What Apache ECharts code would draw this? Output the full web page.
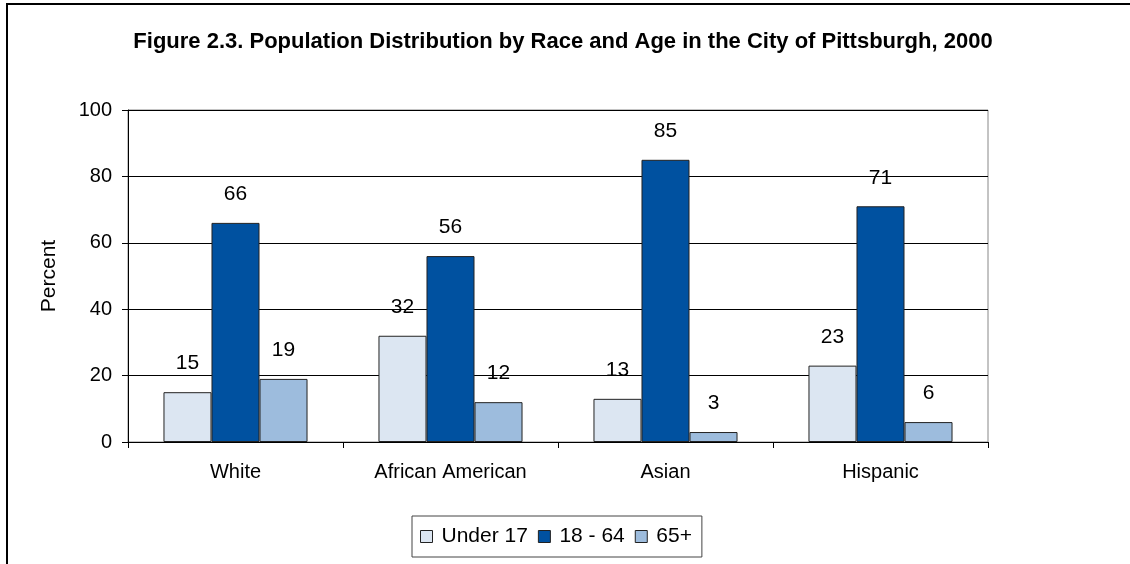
<!DOCTYPE html>
<html>
<head>
<meta charset="utf-8">
<script src="https://cdn.jsdelivr.net/npm/echarts@6/dist/echarts.min.js"></script>
<style>
  html, body { margin: 0; padding: 0; background: #fff; }
  #frame {
    position: absolute; left: 6px; top: 3px; width: 1124px; height: 561px;
    border-left: 2px solid #000; border-top: 2px solid #000;
  }
  #chart { position: absolute; left: 0; top: 0; width: 1130px; height: 564px; }
</style>
</head>
<body>
<div id="frame"></div>
<div id="chart"></div>
<script>
const categories = ['White', 'African American', 'Asian', 'Hispanic']
const under17 = [15, 32, 13, 23]
const adults = [66, 56, 85, 71]
const seniors = [19, 12, 3, 6]
const yTicks = [0, 20, 40, 60, 80, 100]

const font = 'Liberation Sans, Arial, sans-serif'

const barSeries = (name, data, color) => ({
  name: name,
  type: 'bar',
  data: data,
  barGap: '0%',
  barCategoryGap: '33%',
  itemStyle: { color: color, borderColor: '#222', borderWidth: 1 },
  label: {
    show: true,
    position: 'top',
    distance: 18,
    color: '#000',
    fontFamily: font,
    fontSize: 21
  }
})

const option = {
  animation: false,
  backgroundColor: 'transparent',
  title: {
    text: 'Figure 2.3. Population Distribution by Race and Age in the City of Pittsburgh, 2000',
    left: 558,
    textAlign: 'center',
    top: 26,
    textStyle: { fontFamily: font, fontSize: 22, fontWeight: 'bold', color: '#000' }
  },
  grid: {
    left: 128, right: 142, top: 110, bottom: 122,
    show: true, borderColor: '#888', borderWidth: 1, backgroundColor: '#fff'
  },
  legend: {
    left: 412,
    top: 516,
    itemWidth: 12,
    itemHeight: 12,
    itemGap: 10,
    padding: [10, 10, 10, 8],
    borderColor: '#444',
    borderWidth: 1,
    icon: 'rect',
    itemStyle: { borderColor: '#222', borderWidth: 1 },
    textStyle: { fontFamily: font, fontSize: 21, color: '#000', padding: [0, 0, 0, 4] },
    data: ['Under 17', '18 - 64', '65+']
  },
  xAxis: {
    type: 'category',
    data: categories,
    axisLine: { lineStyle: { color: '#000', width: 1 } },
    axisTick: { show: true, length: 6, lineStyle: { color: '#000' } },
    axisLabel: { margin: 20, color: '#000', fontFamily: font, fontSize: 20 }
  },
  yAxis: {
    type: 'value',
    min: yTicks[0],
    max: yTicks[yTicks.length - 1],
    interval: yTicks[1] - yTicks[0],
    name: 'Percent',
    nameLocation: 'middle',
    nameGap: 68,
    nameTextStyle: { fontFamily: font, fontSize: 21, color: '#000' },
    axisLine: { show: true, lineStyle: { color: '#000', width: 1 } },
    axisTick: { show: true, length: 6, lineStyle: { color: '#000' } },
    axisLabel: { margin: 16, color: '#000', fontFamily: font, fontSize: 20 },
    splitLine: { show: true, lineStyle: { color: '#000', width: 1 } }
  },
  series: [
    barSeries('Under 17', under17, '#DCE6F2'),
    barSeries('18 - 64', adults, '#0051A0'),
    barSeries('65+', seniors, '#9DBCDD')
  ]
}

const myChart = echarts.init(document.getElementById('chart'))
myChart.setOption(option)
</script>
</body>
</html>
